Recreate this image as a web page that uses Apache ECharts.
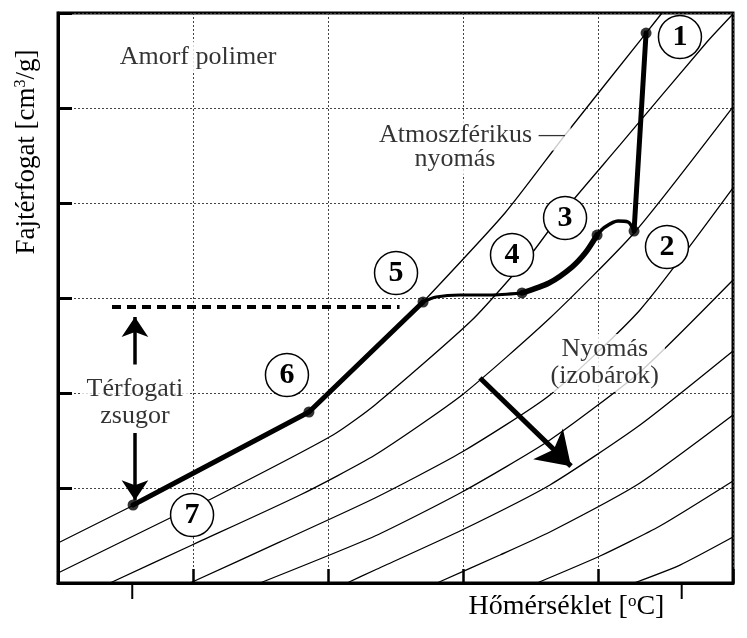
<!DOCTYPE html>
<html><head><meta charset="utf-8">
<script src="https://cdn.jsdelivr.net/npm/echarts@6/dist/echarts.min.js"></script>
<style>html,body{margin:0;padding:0;background:#fff}#c{width:747px;height:638px}</style>
</head><body><div id="c"></div>
<script>
// ---- data (arbitrary units: temperature 0-50, specific volume 0-60) ----
const xTicks = [0, 10, 20, 30, 40, 50];
const yTicks = [0, 10, 20, 30, 40, 50, 60];
const outerXTicks = [5.5, 46.2];

// isobars (atmospheric first, then increasing pressure)
const isobarAtmLow = [[0,4.21],[5.63,8.21],[18.59,18.0],[27.04,29.58]];
const isobarAtmHigh = [[27.04,29.58],[33.11,38.95],[37.56,47.16],[43.56,57.89],[44.74,60]];
const isobar2 = [[0,1.05],[8.30,6.84],[11.48,8.95],[20.37,15.58],[23.48,18.74],[30.67,27.68],[35.11,34.74],[37.11,38.53],[41.63,46.11],[48.07,56.95],[50,59.9]];
const isobar3 = [[3.85,0],[9.93,4.0],[17.93,9.26],[23.48,13.47],[29.93,19.79],[36.44,27.89],[42.74,36.95],[50,50.11]];
const isobar4 = [[9.78,0],[16.44,4.32],[23.48,8.95],[29.93,13.79],[36.44,19.79],[43.11,28.74],[50,41.58]];
const isobar5 = [[14.96,0],[23.48,4.95],[29.93,9.58],[36.44,15.05],[43.11,22.21],[50,31.89]];
const isobar6 = [[21.41,0],[23.48,1.37],[29.93,5.58],[36.44,10.32],[43.11,16.63],[50,24.42]];
const isobar7 = [[28.07,0],[32.74,2.95],[36.44,5.37],[43.11,10.53],[50,17.68]];
const isobar8 = [[35.48,0],[40.15,2.84],[44.59,6.0],[50,10.74]];
const isobar9 = [[42.67,0],[46.07,1.89],[50,4.84]];

// process path 7 -> 6 -> 5 -> 4 -> 3 -> 2 -> 1
const path765 = [[5.56,8.21],[18.59,18.0],[27.04,29.58]];
const path54 = [[27.04,29.58],[28.0,30.1],[29.78,30.32],[32.0,30.32],[34.37,30.53]];
const path43 = [[34.37,30.53],[36.37,31.58],[38.07,33.26],[39.11,34.84],[39.93,36.63]];
const path32 = [[39.93,36.63],[40.52,37.47],[41.48,38.1],[42.22,38.0],[42.67,37.05]];
const path21 = [[42.67,37.05],[43.56,57.89]];

const statePoints = [[43.56,57.89],[42.67,37.05],[39.93,36.63],[34.37,30.53],[27.04,29.58],[18.59,18.0],[5.56,8.21]];
const stateNames = ['1','2','3','4','5','6','7'];
const stateLabelPos = [[46.07,57.47],[45.11,35.37],[37.56,38.42],[33.63,34.53],[25.04,32.63],[16.96,21.89],[9.93,7.16]];

const dashedLevel = [[4.0,29.05],[25.3,29.05]];
const shrinkArrowUp = [[5.7,23.0],[5.7,28.0]];
const shrinkArrowDown = [[5.7,15.8],[5.7,8.7]];
const pressureArrow = [[31.26,21.58],[38.0,12.3]];

const texts = [
  {text:'Amorf polimer', pos:[10.37,55.37], align:'center'},
  {text:'Atmoszférikus —', pos:[23.3,47.16], align:'left'},
  {text:'nyomás', pos:[29.4,44.6], align:'center'},
  {text:'Nyomás\n(izobárok)', pos:[40.5,23.16], align:'center'},
  {text:'Térfogati\nzsugor', pos:[5.7,18.95], align:'center'}
];

// ---- chart ----
const FONT = 'Liberation Serif';
const chart = echarts.init(document.getElementById('c'), null, {renderer:'canvas'});

const thin = {color:'#000', width:1.3};
function lineSeries(data, style, z, smooth){
  return {type:'line', data:data, smooth:smooth===undefined?0.2:smooth,
    showSymbol:false, symbol:'none', lineStyle:style, z:z, silent:true, animation:false};
}

const series = [];
series.push(lineSeries(isobarAtmLow, thin, 2, false));
[isobarAtmHigh, isobar2, isobar3, isobar4, isobar5, isobar6, isobar7, isobar8, isobar9].forEach(d=>{
  series.push(lineSeries(d, thin, 2));
});
series.push(lineSeries(path765, {color:'#000', width:5, cap:'round', join:'round'}, 3, false));
series.push(lineSeries(path54, {color:'#000', width:3, cap:'round'}, 3, 0.25));
series.push(lineSeries(path43, {color:'#000', width:5.5, cap:'round'}, 3, 0.25));
series.push(lineSeries(path32, {color:'#000', width:3.5, cap:'round'}, 3, 0.3));
series.push(lineSeries(path21, {color:'#000', width:5, cap:'round'}, 3, false));
series.push(lineSeries(dashedLevel, {color:'#000', width:4, type:[9,6]}, 3, false));

series.push({type:'lines', coordinateSystem:'cartesian2d', polyline:false, z:4, silent:true, animation:false,
  symbol:['none','arrow'], symbolSize:[14,20],
  lineStyle:{color:'#000', width:3.5, opacity:1, curveness:0},
  data:[{coords:shrinkArrowUp},{coords:shrinkArrowDown}]});
series.push({type:'lines', coordinateSystem:'cartesian2d', polyline:false, z:4, silent:true, animation:false,
  symbol:['none','arrow'], symbolSize:[22,32],
  lineStyle:{color:'#000', width:5, opacity:1, curveness:0},
  data:[{coords:pressureArrow}]});

series.push({type:'scatter', data:statePoints, symbol:'circle', symbolSize:11, z:4, silent:true, animation:false,
  itemStyle:{color:'#000'}});

series.push({type:'scatter', z:6, silent:true, animation:false,
  data:stateLabelPos.map((p,i)=>({value:p, name:stateNames[i]})),
  symbol:'circle', symbolSize:43,
  itemStyle:{color:'#fff', borderColor:'#000', borderWidth:1.5, opacity:1},
  label:{show:true, position:'inside', formatter:'{b}', fontFamily:FONT, fontWeight:'bold', fontSize:30, color:'#000'}});

series.push({type:'scatter', z:7, silent:true, animation:false, symbolSize:1,
  itemStyle:{color:'rgba(0,0,0,0)'},
  data:texts.map(t=>({value:t.pos, name:t.text,
    label:{show:true, formatter:'{b}', position: t.align==='left'?'right':'inside', distance:0,
      align:t.align, fontFamily:FONT, fontSize:26, color:'#000', lineHeight:27,
      backgroundColor:'#fff', padding:[2,6]}}))});

const option = {
  animation:false,
  backgroundColor:'#fff',
  grid:{left:58, right:14, top:13, bottom:55, show:true, borderColor:'#000', borderWidth:3, backgroundColor:'#fff'},
  xAxis:{
    type:'value', min:xTicks[0], max:xTicks[xTicks.length-1], interval:10,
    axisLine:{show:true, onZero:false, lineStyle:{color:'#000', width:3}},
    axisTick:{show:true, inside:true, length:14, lineStyle:{color:'#000', width:2.5}},
    axisLabel:{show:false},
    splitLine:{show:true, lineStyle:{color:'#444', width:1, type:[2,2]}},
    name:'Hőmérséklet [{s|o}C]', nameLocation:'middle', nameGap:10,
    nameTextStyle:{fontFamily:FONT, fontSize:28, color:'#000', verticalAlign:'top', padding:[0,0,0,342],
      rich:{s:{fontFamily:FONT, fontSize:17, color:'#000', verticalAlign:'top'}}}
  },
  yAxis:{
    type:'value', min:yTicks[0], max:yTicks[yTicks.length-1], interval:10,
    axisLine:{show:true, onZero:false, lineStyle:{color:'#000', width:3}},
    axisTick:{show:true, inside:true, length:14, lineStyle:{color:'#000', width:3}},
    axisLabel:{show:false},
    splitLine:{show:true, lineStyle:{color:'#444', width:1, type:[2,2]}},
    name:'Fajtérfogat [cm{s|3}/g]', nameLocation:'middle', nameGap:18,
    nameTextStyle:{fontFamily:FONT, fontSize:27, color:'#000', padding:[0,0,0,292],
      rich:{s:{fontFamily:FONT, fontSize:16, color:'#000', verticalAlign:'top'}}}
  },
  series:series
};
chart.setOption(option);

// outer tick marks below the temperature axis, placed through the axis scale
const tickGraphics = outerXTicks.map(v=>{
  const p = chart.convertToPixel({xAxisIndex:0, yAxisIndex:0}, [v, yTicks[0]]);
  return {type:'line', shape:{x1:p[0], y1:p[1]+1, x2:p[0], y2:p[1]+16}, style:{stroke:'#000', lineWidth:2}, silent:true};
});
chart.setOption({graphic:tickGraphics});
</script>
</body></html>
